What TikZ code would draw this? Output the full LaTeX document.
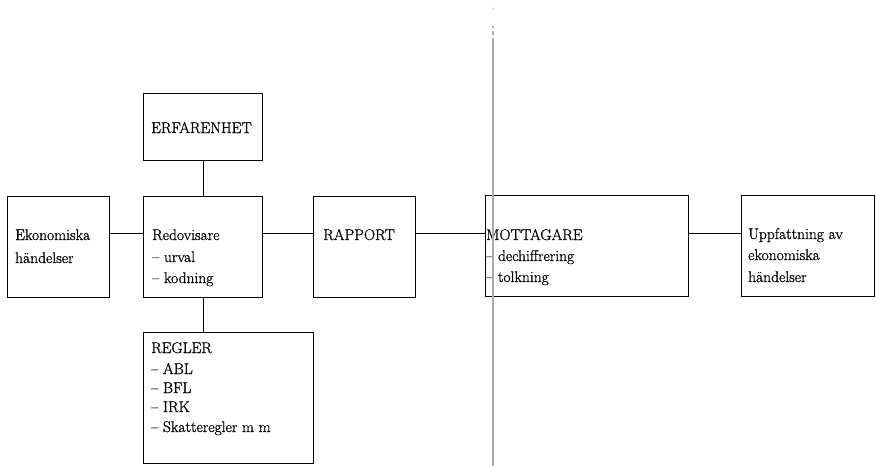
\documentclass[tikz,border=0pt]{standalone}
\usepackage{fontspec}
\setmainfont{Latin Modern Roman}[RawFeature={embolden=0.9}]
\begin{document}
\begin{tikzpicture}[x=1pt,y=-1pt,
  box/.style={draw, line width=1pt, inner sep=0pt, anchor=north west},
  txt/.style={anchor=base west, inner sep=0pt, font=\fontsize{15.5}{19}\selectfont},
  conn/.style={line width=1pt}]
\useasboundingbox (0,0) rectangle (876,466);
\definecolor{sepgray}{RGB}{170,170,170}
% boxes
\node[box, minimum width=119pt, minimum height=67pt]  (erf) at (143,93)  {};
\node[box, minimum width=102pt, minimum height=101pt] (eko) at (7,196)   {};
\node[box, minimum width=119pt, minimum height=101pt] (red) at (143,196) {};
\node[box, minimum width=102pt, minimum height=101pt] (rap) at (313,196) {};
\node[box, minimum width=203pt, minimum height=101pt] (mot) at (485,195) {};
\node[box, minimum width=133pt, minimum height=101pt] (upp) at (741,195) {};
\node[box, minimum width=170pt, minimum height=131pt] (reg) at (143,332) {};
% texts
\node[txt] (erf1) at (151,133) {ERFARENHET};
\node[txt] (eko1) at (15,240) {Ekonomiska};
\node[txt] (eko2) at (15,263) {händelser};
\node[txt] (red1) at (152,240) {Redovisare};
\node[txt] (red2) at (152,262) {-- urval};
\node[txt] (red3) at (152,283) {-- kodning};
\node[txt] (rap1) at (323,240) {RAPPORT};
\node[txt] (mot1) at (486,240) {MOTTAGARE};
\node[txt] (mot2) at (486,261) {-- dechiffrering};
\node[txt] (mot3) at (486,282) {-- tolkning};
\node[txt] (upp1) at (748,239) {Uppfattning av};
\node[txt] (upp2) at (748,260) {ekonomiska};
\node[txt] (upp3) at (748,282) {händelser};
\node[txt] (reg1) at (151,353) {REGLER};
\node[txt] (reg2) at (151,374) {-- ABL};
\node[txt] (reg3) at (151,393) {-- BFL};
\node[txt] (reg4) at (151,412) {-- IRK};
\node[txt] (reg5) at (151,432) {-- Skatteregler m m};
% connectors
\coordinate (L) at (0,233);
\draw[conn] (erf.south) -- (red.north);
\draw[conn] (red.south) -- (reg.north -| red.south);
\draw[conn] (eko.east |- L) -- (red.west |- L);
\draw[conn] (red.east |- L) -- (rap.west |- L);
\draw[conn] (rap.east |- L) -- (mot.west |- L);
\draw[conn] (mot.east |- L) -- (upp.west |- L);
% grey separator line
\draw[sepgray, line width=1.6pt] (493,38) -- (493,466);
\draw[sepgray, line width=1.6pt] (493,26) -- (493,28);
\draw[sepgray, line width=1.6pt] (493,31) -- (493,35);
\draw[sepgray, line width=1pt] (493,7.5) -- (493,8.5);
\end{tikzpicture}
\end{document}
